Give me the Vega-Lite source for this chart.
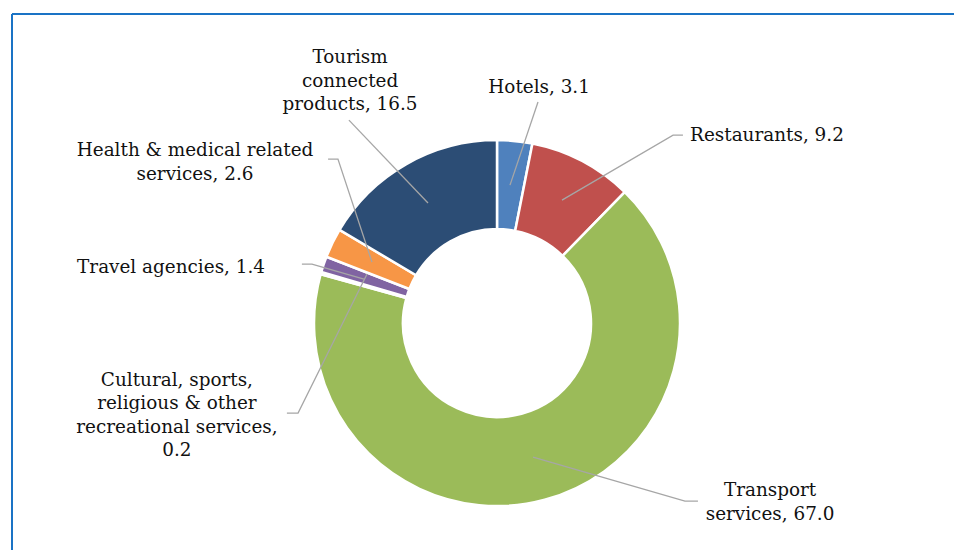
{
  "$schema": "https://vega.github.io/schema/vega-lite/v6.json",
  "width": 942,
  "height": 536,
  "autosize": {"type": "none"},
  "padding": {"left": 12, "top": 14, "right": 0, "bottom": 0},
  "background": "white",
  "config": {"view": {"stroke": null}},
  "datasets": {
    "slices": [
      {"category": "Hotels", "share": 3.1, "rank": 1},
      {"category": "Restaurants", "share": 9.2, "rank": 2},
      {"category": "Transport services", "share": 67.0, "rank": 3},
      {"category": "Cultural, sports, religious & other recreational services", "share": 0.2, "rank": 4},
      {"category": "Travel agencies", "share": 1.4, "rank": 5},
      {"category": "Health & medical related services", "share": 2.6, "rank": 6},
      {"category": "Tourism connected products", "share": 16.5, "rank": 7}
    ],
    "frame": [
      {"edge": "left", "x1": -2.65, "x2": -2.65, "y1": -1.24, "y2": 1.689},
      {"edge": "top", "x1": -2.65, "x2": 2.497, "y1": 1.689, "y2": 1.689}
    ],
    "leaders": [
      {"category": "Hotels", "seq": 1, "ux": 0.071, "uy": 0.754},
      {"category": "Hotels", "seq": 2, "ux": 0.224, "uy": 1.208},
      {"category": "Restaurants", "seq": 1, "ux": 0.355, "uy": 0.672},
      {"category": "Restaurants", "seq": 2, "ux": 0.962, "uy": 1.027},
      {"category": "Restaurants", "seq": 3, "ux": 1.016, "uy": 1.027},
      {"category": "Transport services", "seq": 1, "ux": 0.197, "uy": -0.732},
      {"category": "Transport services", "seq": 2, "ux": 1.027, "uy": -0.973},
      {"category": "Transport services", "seq": 3, "ux": 1.098, "uy": -0.973},
      {"category": "Cultural", "seq": 1, "ux": -0.710, "uy": 0.268},
      {"category": "Cultural", "seq": 2, "ux": -1.087, "uy": -0.492},
      {"category": "Cultural", "seq": 3, "ux": -1.148, "uy": -0.492},
      {"category": "Travel agencies", "seq": 1, "ux": -0.727, "uy": 0.240},
      {"category": "Travel agencies", "seq": 2, "ux": -1.011, "uy": 0.322},
      {"category": "Travel agencies", "seq": 3, "ux": -1.066, "uy": 0.322},
      {"category": "Health", "seq": 1, "ux": -0.683, "uy": 0.333},
      {"category": "Health", "seq": 2, "ux": -0.869, "uy": 0.896},
      {"category": "Health", "seq": 3, "ux": -0.923, "uy": 0.896},
      {"category": "Tourism", "seq": 1, "ux": -0.377, "uy": 0.656},
      {"category": "Tourism", "seq": 2, "ux": -0.809, "uy": 1.109}
    ],
    "labels": [
      {"label": "Hotels, 3.1", "ux": 0.230, "uy": 1.290},
      {"label": "Restaurants, 9.2", "ux": 1.475, "uy": 1.027},
      {"label": "Transport\nservices, 67.0", "ux": 1.492, "uy": -0.913},
      {"label": "Cultural, sports,\nreligious & other\nrecreational services,\n0.2", "ux": -1.749, "uy": -0.311},
      {"label": "Travel agencies, 1.4", "ux": -1.781, "uy": 0.306},
      {"label": "Health & medical related\nservices, 2.6", "ux": -1.650, "uy": 0.945},
      {"label": "Tourism\nconnected\nproducts, 16.5", "ux": -0.803, "uy": 1.454}
    ]
  },
  "layer": [
    {
      "data": {"name": "frame"},
      "mark": {"type": "rule", "color": "#1A73C5", "strokeWidth": 2},
      "encoding": {
        "x": {"field": "x1", "type": "quantitative", "scale": {"domain": [-2.65, 2.497], "nice": false, "zero": false}, "axis": null},
        "x2": {"field": "x2"},
        "y": {"field": "y1", "type": "quantitative", "scale": {"domain": [-1.24, 1.689], "nice": false, "zero": false}, "axis": null},
        "y2": {"field": "y2"}
      }
    },
    {
      "data": {"name": "slices"},
      "mark": {"type": "arc", "outerRadius": 183, "innerRadius": 94, "stroke": "white", "strokeWidth": 2.5},
      "encoding": {
        "theta": {"field": "share", "type": "quantitative", "stack": true},
        "order": {"field": "rank", "type": "quantitative"},
        "color": {
          "field": "category",
          "type": "nominal",
          "legend": null,
          "scale": {
            "domain": ["Hotels", "Restaurants", "Transport services", "Cultural, sports, religious & other recreational services", "Travel agencies", "Health & medical related services", "Tourism connected products"],
            "range": ["#4F81BD", "#C0504D", "#9BBB59", "#4BACC6", "#8064A2", "#F79646", "#2C4D75"]
          }
        },
        "x": {"datum": 0, "type": "quantitative"},
        "y": {"datum": 0, "type": "quantitative"}
      }
    },
    {
      "data": {"name": "leaders"},
      "mark": {"type": "line", "color": "#A6A6A6", "strokeWidth": 1.3},
      "encoding": {
        "x": {"field": "ux", "type": "quantitative"},
        "y": {"field": "uy", "type": "quantitative"},
        "detail": {"field": "category", "type": "nominal"},
        "order": {"field": "seq", "type": "quantitative"}
      }
    },
    {
      "data": {"name": "labels"},
      "mark": {"type": "text", "font": "DejaVu Serif", "fontSize": 18.4, "lineHeight": 23.5, "lineBreak": "\n", "align": "center", "baseline": "middle", "color": "#111111"},
      "encoding": {
        "x": {"field": "ux", "type": "quantitative"},
        "y": {"field": "uy", "type": "quantitative"},
        "text": {"field": "label", "type": "nominal"}
      }
    }
  ]
}
